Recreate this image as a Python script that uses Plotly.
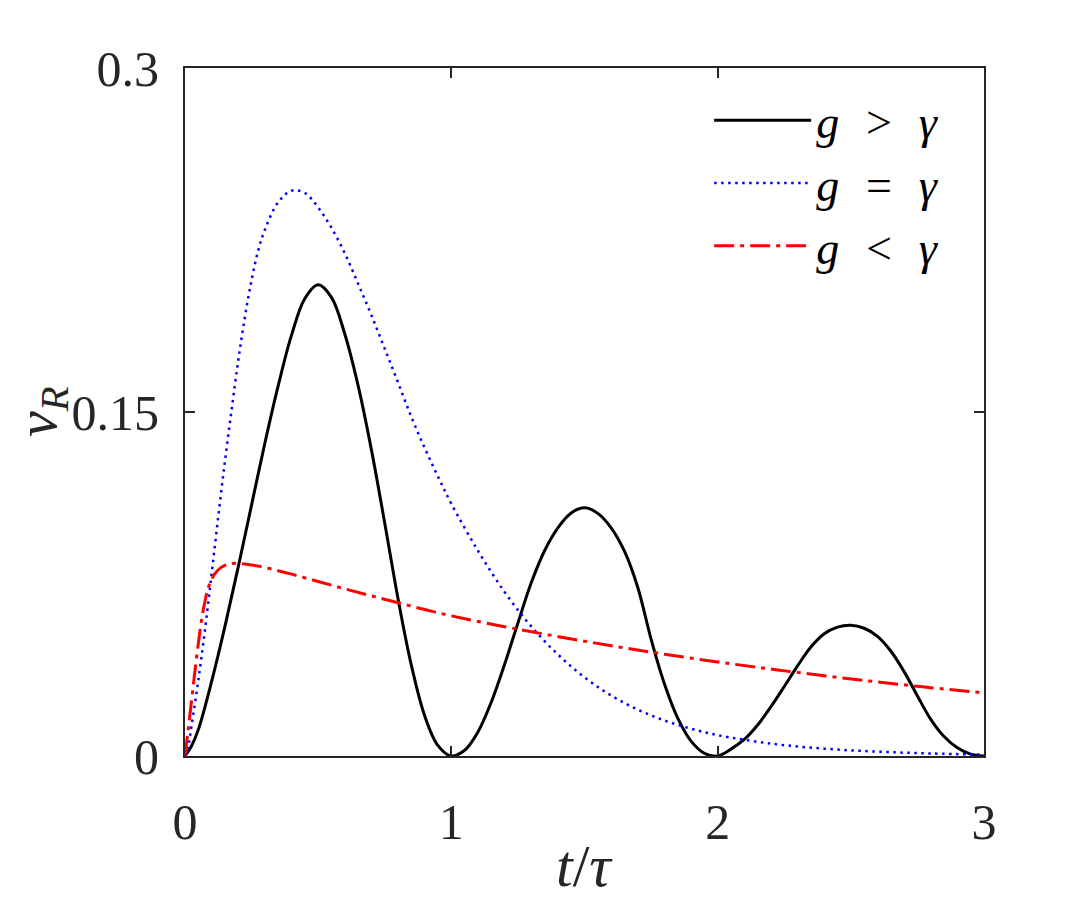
import plotly.graph_objects as go

# g > gamma (black, solid)
t_over = [0, 0.025, 0.05, 0.1, 0.15, 0.2, 0.25, 0.3, 0.35, 0.4, 0.45, 0.5, 0.55, 0.6, 0.65,
          0.7, 0.75, 0.8, 0.85, 0.9, 0.95, 1.0,
          1.05, 1.1, 1.15, 1.2, 1.25, 1.3, 1.35, 1.4, 1.45, 1.5, 1.55, 1.6, 1.65, 1.7,
          1.75, 1.8, 1.85, 1.9, 1.95, 2.0,
          2.05, 2.1, 2.15, 2.2, 2.25, 2.3, 2.35, 2.4, 2.45, 2.5, 2.55, 2.6, 2.65, 2.7,
          2.75, 2.8, 2.85, 2.9, 2.95, 3.0]
v_over = [0, 0.0045, 0.0115, 0.0325, 0.0565, 0.0825, 0.1095, 0.1365, 0.1615, 0.1835, 0.1995,
          0.2055, 0.2, 0.184, 0.1615, 0.1335, 0.1015, 0.0685, 0.0395, 0.0175, 0.0045, 0,
          0.0025, 0.0105, 0.0235, 0.04, 0.058, 0.0755, 0.0895, 0.0995, 0.106, 0.1082,
          0.1058, 0.0995, 0.0893, 0.0735, 0.051, 0.0315, 0.0165, 0.0065, 0.0012, 0,
          0.003, 0.0072, 0.0135, 0.0215, 0.0303, 0.0393, 0.0475, 0.0533, 0.0562, 0.057,
          0.0557, 0.0522, 0.0458, 0.0368, 0.0262, 0.016, 0.0085, 0.0036, 0.0008, 0]

# g = gamma (blue, dotted)
t_crit = [0, 0.0125, 0.025, 0.05, 0.075, 0.1, 0.125, 0.15, 0.175, 0.2, 0.225, 0.25, 0.275,
          0.3, 0.35, 0.4, 0.45, 0.5, 0.55, 0.6, 0.65, 0.7, 0.75, 0.8, 0.85, 0.9, 0.95, 1.0,
          1.1, 1.2, 1.3, 1.4, 1.5, 1.6, 1.7, 1.8, 1.9, 2.0, 2.2, 2.4, 2.6, 2.8, 3.0]
v_crit = [0, 0.0045, 0.0135, 0.033, 0.055, 0.0795, 0.1045, 0.1285, 0.151, 0.1725, 0.1915,
          0.2075, 0.2205, 0.2295, 0.2415, 0.2465, 0.2455, 0.2392, 0.2303, 0.2192, 0.2059,
          0.1922, 0.1776, 0.1628, 0.1478, 0.1343, 0.1218, 0.11, 0.0895, 0.0715, 0.0565,
          0.0443, 0.0343, 0.0264, 0.0202, 0.0155, 0.0119, 0.0091, 0.0054, 0.0032, 0.0019,
          0.0011, 0.0006]

# g < gamma (red, dash-dot)
t_under = [0, 0.0125, 0.025, 0.0375, 0.05, 0.0625, 0.075, 0.0875, 0.1, 0.125, 0.15, 0.175,
           0.2, 0.225, 0.25, 0.275, 0.3, 0.35, 0.4, 0.5, 0.6, 0.7, 0.8, 0.9, 1.0, 1.2, 1.4,
           1.6, 1.8, 2.0, 2.2, 2.4, 2.6, 2.8, 3.0]
v_under = [0, 0.012, 0.0245, 0.0372, 0.049, 0.0595, 0.0675, 0.0733, 0.0772, 0.0812, 0.0831,
           0.0839, 0.084, 0.0837, 0.0833, 0.0828, 0.0822, 0.0808, 0.0793, 0.0761, 0.0729,
           0.0698, 0.0668, 0.0639, 0.0611, 0.0564, 0.0521, 0.0481, 0.0444, 0.041, 0.0379,
           0.035, 0.0323, 0.0298, 0.0275]

x_ticks = [0, 1, 2, 3]
y_ticks = [0, 0.15, 0.3]
y_ticktext = ["0", "0.15", "0.3"]

FONT = "Liberation Serif"
AXIS_COLOR = "#262626"
SP = "&nbsp;&nbsp;&#8202;"


def label(op):
    return "<i>g</i>" + SP + op + SP + "<i>γ</i>"


fig = go.Figure()

fig.add_trace(go.Scatter(
    x=t_over, y=v_over, mode="lines",
    line=dict(color="black", width=3, shape="spline", smoothing=1),
    name=label("&gt;")
))
fig.add_trace(go.Scatter(
    x=t_crit, y=v_crit, mode="lines",
    line=dict(color="#0000ff", width=2.5, dash="2.5px,4.5px", shape="spline", smoothing=1),
    name=label("=")
))
fig.add_trace(go.Scatter(
    x=t_under, y=v_under, mode="lines",
    line=dict(color="#ff0000", width=3, dash="20px,6px,4px,6px", shape="spline", smoothing=1),
    name=label("&lt;")
))

axis_common = dict(
    showline=True, linewidth=2, linecolor=AXIS_COLOR, mirror="ticks",
    ticks="inside", ticklen=10, tickwidth=2, tickcolor=AXIS_COLOR,
    showgrid=False, zeroline=False,
    tickfont=dict(family=FONT, size=50, color=AXIS_COLOR),
)

fig.update_xaxes(range=[0, 3], tickvals=x_ticks, ticklabelstandoff=21, **axis_common)
fig.update_yaxes(range=[0, 0.3], tickvals=y_ticks, ticktext=y_ticktext,
                 ticklabelstandoff=14, **axis_common)

# axis titles
fig.add_annotation(
    text="<i>t</i>/<i>τ</i>", xref="paper", yref="paper", x=0.5, y=0,
    yshift=-110, xanchor="center", yanchor="middle", showarrow=False,
    font=dict(family=FONT, size=60, color=AXIS_COLOR)
)
fig.add_annotation(
    text="<i>v</i><sub><i>R</i></sub>", xref="paper", yref="paper", x=0, y=0.5,
    xshift=-145, xanchor="center", yanchor="middle", textangle=-90, showarrow=False,
    font=dict(family=FONT, size=58, color=AXIS_COLOR)
)

# the page body adds an 8px margin, so the figure is sized to fit the window
fig.update_layout(
    width=1071, height=890,
    margin=dict(l=177, r=95, t=60, b=142),
    plot_bgcolor="white", paper_bgcolor="white",
    font=dict(family=FONT, color="black"),
    showlegend=True,
    legend=dict(
        x=0.656, y=0.977, xanchor="left", yanchor="top",
        font=dict(family=FONT, size=46, color="black"),
        bgcolor="rgba(0,0,0,0)", itemwidth=97, tracegroupgap=0,
    ),
)

fig.write_html("out.html")
